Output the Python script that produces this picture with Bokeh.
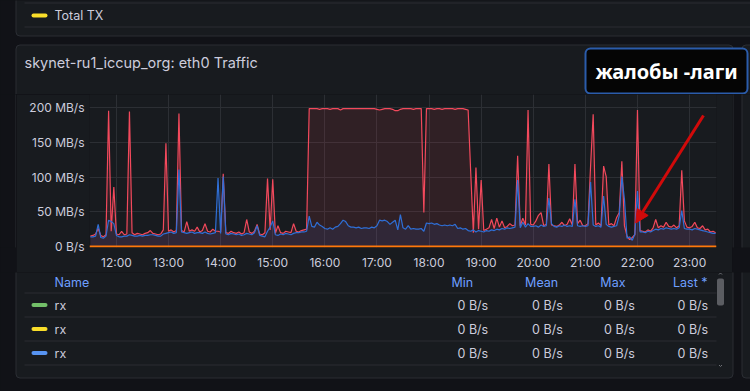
import datetime as dt
from bokeh.plotting import figure
from bokeh.layouts import column, row
from bokeh.models import (Range1d, FixedTicker, DatetimeTickFormatter, Arrow,
                          NormalHead, ColumnDataSource)
from bokeh.core.properties import value
from bokeh.embed import file_html
from bokeh.resources import INLINE

# ---------------- data ----------------
start_time = "11:30"
step_minutes = 3
red_series = (
    [15, 16, 18, 26, 16, 14, 17, 196, 22, 86]
    + [18, 17, 22, 17, 18, 195, 20, 17, 19, 18, 17, 19, 20, 23, 19, 18, 17, 18, 24, 149]
    + [22, 24, 21, 23, 192, 23, 21, 36, 22, 24, 22, 28, 21, 23, 33, 22, 21, 25, 22, 22]
    + [21, 105, 20, 19, 22, 20, 19, 21, 18, 20, 39, 21, 19, 22, 32, 18, 17, 20, 98, 24]
    + [97, 19, 30, 20, 19, 22, 21, 20, 33, 22, 21, 23, 24, 25, 199, 199, 199, 199, 198, 199]
    + [199, 199, 198, 199, 199, 199, 197, 199, 199, 199, 199, 199, 199, 199, 199, 199, 199, 199, 199, 199]
    + [198, 197, 198, 199, 199, 199, 198, 196, 196, 198, 199, 199, 199, 199, 198, 199, 199, 199, 49, 199]
    + [199, 199, 198, 199, 199, 198, 199, 199, 199, 199, 198, 199, 199, 199, 198, 197, 106, 20, 114, 25]
    + [96, 23, 25, 27, 39, 26, 41, 28, 37, 27, 29, 33, 30, 31, 131, 30, 41, 31, 197, 32]
    + [31, 37, 45, 49, 30, 32, 119, 31, 30, 29, 31, 35, 30, 32, 40, 31, 119, 33, 38, 30]
    + [30, 33, 116, 191, 31, 34, 30, 116, 101, 31, 33, 30, 42, 49, 123, 30, 15, 10, 13, 17]
    + [197, 23, 22, 21, 24, 22, 27, 39, 27, 30, 28, 35, 29, 28, 31, 27, 30, 110, 37, 28]
    + [27, 29, 35, 27, 26, 30, 24, 25, 21, 22, 20]
)
blue_series = (
    [14, 14, 15, 32, 13, 12, 15, 38, 36, 33]
    + [16, 14, 14, 15, 15, 17, 16, 15, 15, 16, 15, 16, 16, 17, 17, 16, 15, 15, 18, 19]
    + [20, 21, 19, 20, 111, 21, 20, 19, 20, 21, 19, 20, 20, 19, 21, 19, 18, 19, 20, 99]
    + [19, 101, 18, 17, 19, 18, 17, 18, 16, 17, 19, 18, 17, 20, 30, 16, 15, 14, 22, 28]
    + [37, 17, 16, 18, 17, 19, 18, 17, 19, 20, 20, 21, 21, 22, 44, 29, 28, 35, 31, 29]
    + [26, 25, 27, 25, 28, 29, 33, 38, 36, 30, 28, 28, 27, 28, 26, 27, 27, 26, 28, 27]
    + [30, 38, 37, 38, 36, 32, 35, 38, 24, 46, 27, 25, 30, 25, 26, 25, 25, 26, 22, 34]
    + [33, 34, 32, 33, 31, 30, 31, 30, 31, 30, 32, 26, 27, 25, 26, 23, 22, 24, 21, 23]
    + [22, 21, 23, 22, 24, 23, 25, 24, 26, 25, 27, 26, 27, 28, 96, 27, 35, 28, 33, 29]
    + [29, 30, 28, 31, 29, 30, 70, 33, 29, 28, 30, 29, 31, 29, 30, 29, 68, 30, 29, 30]
    + [29, 30, 93, 31, 29, 30, 28, 73, 32, 29, 28, 29, 30, 45, 101, 68, 12, 14, 9, 18]
    + [80, 21, 21, 20, 22, 21, 23, 25, 24, 26, 25, 27, 26, 25, 26, 25, 27, 52, 26, 25]
    + [25, 24, 26, 25, 24, 23, 22, 21, 20, 19, 19]
)
tx_times = ["11:29", "23:31"]
tx_values = [0, 0]

hour_ticks = ["12:00", "13:00", "14:00", "15:00", "16:00", "17:00",
              "18:00", "19:00", "20:00", "21:00", "22:00", "23:00"]
y_ticks = [0, 50, 100, 150, 200]
y_tick_labels = ["0 B/s", "50 MB/s", "100 MB/s", "150 MB/s", "200 MB/s"]

panel_title = "skynet-ru1_iccup_org: eth0 Traffic"
note_text = "жалобы -лаги"
top_legend = "Total TX"
legend_names = ["rx", "rx", "rx"]
legend_colors = ["#73bf69", "#fade2a", "#5794f2"]
stat_headers = ["Min", "Mean", "Max", "Last *"]
stat_values = [["0 B/s", "0 B/s", "0 B/s", "0 B/s"],
               ["0 B/s", "0 B/s", "0 B/s", "0 B/s"],
               ["0 B/s", "0 B/s", "0 B/s", "0 B/s"]]

# ---------------- styles ----------------
PAGE_BG = "#111217"
PANEL_BG = "#181b1f"
BORDER = "#2a2d33"
TEXT = "#ccccdc"
HEAD = "#6e9fff"
RED = "#f2495c"
BLUE = "#2f6fd6"
ORANGE = "#ff780a"
GRID = "#2c2f34"
FONT = "Inter"

day = dt.datetime(2024, 1, 1)


def at(hhmm):
    h, m = map(int, hhmm.split(":"))
    return day + dt.timedelta(hours=h, minutes=m)


def ms(d):
    return (d - dt.datetime(1970, 1, 1)).total_seconds() * 1000.0


t0 = at(start_time)
times = [t0 + dt.timedelta(minutes=step_minutes * i) for i in range(len(red_series))]


def blank(w, h, xr, yr, bg=PAGE_BG):
    f = figure(width=w, height=h, x_range=Range1d(*xr), y_range=Range1d(*yr),
               output_backend="svg", toolbar_location=None,
               min_border=0, outline_line_color=None,
               background_fill_color=bg, border_fill_color=bg)
    f.axis.visible = False
    f.grid.visible = False
    return f


# ---------------- top strip (page y 0..94) ----------------
top = blank(750, 94, (0, 750), (94, 0))
top.quad(left=15.5, right=800, top=-50, bottom=35.5, fill_color=PANEL_BG,
         line_color=BORDER, border_radius=4)
top.segment(x0=[24, 24], y0=[2.5, 26.5], x1=[800, 800], y1=[2.5, 26.5],
            line_color=BORDER, line_width=1)
top.segment(x0=[33], y0=[15], x1=[45], y1=[15], line_color="#fade2a", line_width=4,
            line_cap="round")
top.text(x=[54], y=[15], text=[top_legend], text_font=value(FONT), text_font_size="12.5px",
         text_color=TEXT, text_baseline="middle", text_align="left")
top.quad(left=15.5, right=732.5, top=44.5, bottom=300, fill_color=PANEL_BG,
         line_color=BORDER, border_radius=4)
top.quad(left=741.5, right=800, top=44.5, bottom=300, fill_color=PANEL_BG,
         line_color=BORDER, border_radius=4)
top.text(x=[24], y=[62], text=[panel_title], text_font=value(FONT), text_font_size="14.5px",
         text_color=TEXT, text_baseline="middle", text_align="left")
top.quad(left=585, right=747, top=48, bottom=93, fill_color="#050505",
         line_color="#2b5cab", line_width=2, border_radius=5)
top.text(x=[666], y=[71], text=[note_text], text_font=value("Noto Sans"), text_font_size="20px",
         text_font_style="bold", text_color="#ffffff", text_baseline="middle", text_align="center")

# ---------------- main chart (page x 16..732, y 94..272) ----------------
src = ColumnDataSource(dict(t=times, red=red_series, blue=blue_series))
main = figure(width=716, height=178, x_axis_type="datetime",
              x_range=Range1d(at("11:29"), at("23:31")), y_range=Range1d(-1.42, 219.4),
              output_backend="svg", toolbar_location=None,
              min_border_left=73, min_border_right=16, min_border_top=0, min_border_bottom=23,
              background_fill_color=PANEL_BG, border_fill_color=PANEL_BG,
              outline_line_color=None)
xt = FixedTicker(ticks=[ms(at(h)) for h in hour_ticks])
main.xaxis.ticker = xt
main.xaxis.formatter = DatetimeTickFormatter(hours="%H:%M", hourmin="%H:%M", minutes="%H:%M",
                                             days="%H:%M")
main.xgrid.ticker = xt
main.yaxis.ticker = FixedTicker(ticks=y_ticks)
main.yaxis.major_label_overrides = {t: l for t, l in zip(y_ticks, y_tick_labels)}
main.ygrid.ticker = FixedTicker(ticks=y_ticks)
for ax in (main.xaxis, main.yaxis):
    ax.axis_line_color = None
    ax.major_tick_line_color = None
    ax.minor_tick_line_color = None
    ax.major_tick_out = 0
    ax.major_tick_in = 0
    ax.major_label_text_font = FONT
    ax.major_label_text_font_size = "12px"
    ax.major_label_text_color = TEXT
main.xaxis.major_label_standoff = 7
main.yaxis.major_label_standoff = 5
main.grid.grid_line_color = GRID

main.varea(x="t", y1=0, y2="red", source=src, fill_color=RED, fill_alpha=0.11)
main.varea(x="t", y1=0, y2="blue", source=src, fill_color=BLUE, fill_alpha=0.10)
main.line(x="t", y="red", source=src, line_color=RED, line_width=1.2)
main.line(x="t", y="blue", source=src, line_color=BLUE, line_width=1.2)
main.line(x=[at(t) for t in tx_times], y=tx_values, line_color=ORANGE, line_width=2)

main.add_layout(Arrow(end=NormalHead(size=13, fill_color="#d10a0a", line_color="#d10a0a"),
                      x_start=at("23:16"), y_start=189, x_end=at("21:58"), y_end=34,
                      line_color="#d10a0a", line_width=3))

left = blank(16, 178, (0, 16), (272, 94))
left.segment(x0=[15.5], y0=[0], x1=[15.5], y1=[500], line_color=BORDER)
right = blank(18, 178, (732, 750), (272, 94))
right.segment(x0=[732.5], y0=[0], x1=[732.5], y1=[500], line_color=BORDER)
right.quad(left=741.5, right=800, top=0, bottom=500, fill_color=PANEL_BG, line_color=BORDER)

# ---------------- bottom table (page y 272..391) ----------------
bot = blank(750, 119, (0, 750), (391, 272))
bot.quad(left=15.5, right=732.5, top=200, bottom=377.5, fill_color=PANEL_BG,
         line_color=BORDER, border_radius=4)
bot.quad(left=741.5, right=800, top=200, bottom=377.5, fill_color=PANEL_BG,
         line_color=BORDER, border_radius=4)
row_lines = [292.5, 316.5, 340.5, 364.5]
bot.segment(x0=[24] * 4, y0=row_lines, x1=[716] * 4, y1=row_lines, line_color=BORDER)
bot.text(x=[54], y=[282], text=["Name"], text_font=value(FONT), text_font_size="12.5px",
         text_color=HEAD, text_baseline="middle", text_align="left")
head_x = [472.7, 557.7, 625, 707]
bot.text(x=head_x, y=[282] * 4, text=stat_headers, text_font=value(FONT),
         text_font_size="12.5px", text_color=HEAD, text_baseline="middle", text_align="right")
row_y = [304.5, 328.5, 352.5]
bot.segment(x0=[33] * 3, y0=row_y, x1=[45] * 3, y1=row_y, line_color=legend_colors,
            line_width=4, line_cap="round")
bot.text(x=[54] * 3, y=row_y, text=legend_names, text_font=value(FONT),
         text_font_size="12.5px", text_color=TEXT, text_baseline="middle", text_align="left")
val_x = [487.7, 562.3, 634.3, 707.7]
for yy, vals in zip(row_y, stat_values):
    bot.text(x=val_x, y=[yy] * 4, text=vals, text_font=value(FONT), text_font_size="12.5px",
             text_color=TEXT, text_baseline="middle", text_align="right")
bot.quad(left=716.5, right=723.5, top=278, bottom=305, fill_color="#5b5d62",
         line_color=None, border_radius=2)
bot.multi_line(xs=[[718.5, 720, 721.5], [718.5, 720, 721.5]],
               ys=[[274, 272.5, 274], [364.5, 366, 364.5]],
               line_color="#6e7076", line_width=1)

layout_kwargs = {}
try:
    from bokeh.models import GlobalInlineStyleSheet
    layout_kwargs["stylesheets"] = [GlobalInlineStyleSheet(
        css="html, body { background-color: #111217 !important; }")]
except Exception:
    pass

p = column(top, row(left, main, right, spacing=0), bot, spacing=0, **layout_kwargs)

open("out.html", "w").write(file_html(p, INLINE))
